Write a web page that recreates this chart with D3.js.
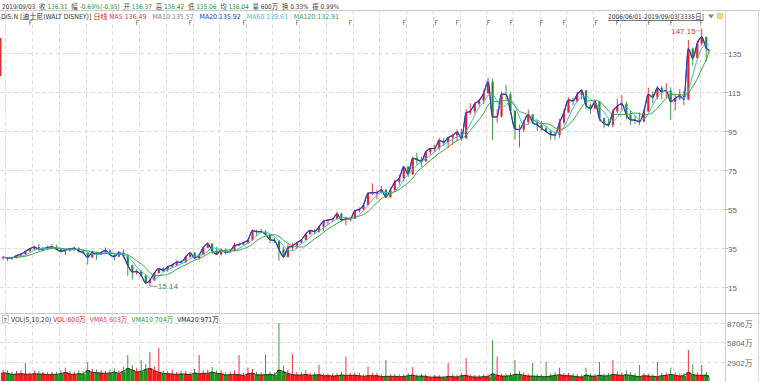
<!DOCTYPE html>
<html><head><meta charset="utf-8">
<script src="https://cdn.jsdelivr.net/npm/d3@7/dist/d3.min.js"></script>
<style>
body{margin:0;background:#fff}
svg{display:block}
text{font-family:"Liberation Sans","Noto Sans CJK SC",sans-serif}
text.cond{font-family:"DejaVu Sans Condensed","Liberation Sans Narrow","Liberation Sans","Noto Sans CJK SC",sans-serif}
</style>
</head><body>
<svg id="chart" width="760" height="382"></svg>
<script>
// ---------------- DATA ----------------
const firstDay = "2006-06-01";
const lastDay  = "2019-09-03";
const firstMonth = "2006-06";   // monthly candles Jun 2006 .. Sep 2019 (160 months)

const opens = [
 29.8,30.0,29.7,29.6,30.9,31.5,33.0,
 34.3,35.2,34.2,34.4,35.0,35.4,34.1,33.0,33.6,34.4,34.6,33.1,
 32.3,29.9,32.4,31.4,32.4,33.6,31.2,30.3,32.4,30.7,25.9,22.5,
 22.7,20.7,16.8,18.2,21.9,24.2,23.3,25.1,26.0,27.5,27.4,30.2,
 32.3,29.6,31.2,34.9,36.9,33.4,31.5,33.7,32.5,33.1,36.1,36.5,
 37.5,38.9,43.7,43.1,43.1,41.7,39.0,38.6,34.0,30.2,34.9,35.8,
 37.5,38.9,42.0,43.8,43.1,45.7,48.5,49.1,49.5,52.3,49.1,49.7,
 49.8,53.9,54.6,56.8,62.8,63.1,63.2,64.6,60.8,64.5,68.6,70.5,
 76.4,72.6,80.8,80.1,79.3,84.0,85.7,85.9,89.9,89.0,91.4,92.5,
 94.2,91.0,104.1,104.9,108.7,110.4,114.1,120.0,101.9,102.2,113.7,113.5,
 105.1,95.8,95.5,99.3,103.3,99.2,97.8,96.1,94.5,92.9,92.7,99.1,
 104.2,110.7,110.1,113.4,115.6,107.9,106.3,109.9,101.2,98.6,97.8,104.8,
 107.5,108.7,103.2,100.4,100.3,99.5,104.8,113.6,112.0,116.9,114.8,115.5,
 109.7,111.5,112.8,111.0,137.0,132.0,139.6,143.0,136.37
];
const highs = [
 30.5,30.2,30.4,31.2,32.0,33.5,34.8,
 36.0,36.8,35.3,35.9,36.8,36.4,34.9,34.4,34.8,35.4,35.2,33.9,
 32.5,33.4,32.8,32.9,35.0,34.0,31.5,33.2,34.0,31.5,26.2,24.0,
 23.5,21.3,18.8,22.4,24.6,25.0,25.7,26.6,28.3,28.6,30.8,32.8,
 32.7,31.5,35.2,37.9,37.4,35.4,34.6,34.4,34.3,37.4,37.6,37.9,
 39.2,44.3,44.0,44.5,43.8,41.9,40.0,38.8,35.2,36.5,37.4,38.0,
 39.4,42.5,44.0,44.3,46.3,48.7,49.5,50.1,53.4,53.0,50.9,50.6,
 54.3,55.6,57.8,63.3,67.9,64.7,66.5,64.9,65.8,69.8,72.5,76.8,
 76.8,81.6,83.6,81.5,84.6,86.1,87.6,91.2,91.2,91.4,93.4,95.5,
 95.9,106.0,109.0,109.6,111.3,115.6,122.1,121.7,105.9,115.0,118.5,114.7,
 105.3,98.0,100.4,105.7,103.3,100.6,99.9,97.3,95.1,94.1,101.0,106.1,
 111.9,111.9,114.9,116.1,115.7,108.8,110.6,110.2,101.7,101.0,106.0,111.1,
 113.2,109.7,105.2,102.5,104.2,106.2,117.0,115.0,117.8,117.9,119.2,117.2,
 113.0,116.1,115.3,141.4,137.6,141.2,147.15,143.0,136.42
];
const lows = [
 28.6,28.0,28.7,29.4,30.6,31.3,32.9,
 33.7,33.4,33.0,34.0,34.6,33.8,32.4,31.1,32.8,33.4,32.4,31.8,
 26.3,29.6,28.8,31.0,32.2,31.1,28.4,30.1,29.4,20.5,18.6,21.0,
 19.9,16.3,15.14,17.8,21.6,22.4,22.6,24.7,25.4,26.8,27.2,29.7,
 28.9,28.8,31.0,34.6,31.8,31.2,30.9,31.5,32.3,33.0,35.8,36.3,
 37.0,38.4,41.0,42.8,41.2,37.2,37.3,28.2,29.5,29.8,33.4,34.2,
 37.0,38.6,41.4,41.7,42.6,43.5,46.5,47.9,49.2,48.6,46.5,48.3,
 49.6,52.9,53.9,56.5,61.9,59.7,62.7,60.4,60.5,63.4,67.2,69.1,
 71.0,72.2,77.4,76.3,78.7,82.3,83.8,84.9,87.1,85.9,87.6,89.5,
 89.8,91.0,102.9,103.7,107.3,108.4,113.8,90.0,98.9,101.6,111.1,103.6,
 90.3,86.3,94.3,98.4,98.2,94.6,94.9,94.3,90.3,90.3,91.2,98.1,
 104.1,108.0,109.5,111.0,105.8,103.5,105.8,100.0,96.2,96.8,96.6,103.8,
 105.5,100.8,97.9,98.4,97.7,99.2,104.6,109.0,111.0,111.0,111.5,100.4,
 105.3,110.5,107.9,110.6,128.2,133.3,138.5,130.4,135.06
];
const closes = [
 30.0,29.7,29.6,30.9,31.5,33.0,34.3,
 35.2,34.2,34.4,35.0,35.4,34.1,33.0,33.6,34.4,34.6,33.1,32.3,
 29.9,32.4,31.4,32.4,33.6,31.2,30.3,32.4,30.7,25.9,22.5,22.7,
 20.7,16.8,18.2,21.9,24.2,23.3,25.1,26.0,27.5,27.4,30.2,32.3,
 29.6,31.2,34.9,36.9,33.4,31.5,33.7,32.5,33.1,36.1,36.5,37.5,
 38.9,43.7,43.1,43.1,41.7,39.0,38.6,34.0,30.2,34.9,35.8,37.5,
 38.9,42.0,43.8,43.1,45.7,48.5,49.1,49.5,52.3,49.1,49.7,49.8,
 53.9,54.6,56.8,62.8,63.1,63.2,64.6,60.8,64.5,68.6,70.5,76.4,
 72.6,80.8,80.1,79.3,84.0,85.7,85.9,89.9,89.0,91.4,92.5,94.2,
 91.0,104.1,104.9,108.7,110.4,114.1,120.0,101.9,102.2,113.7,113.5,105.1,
 95.8,95.5,99.3,103.3,99.2,97.8,96.1,94.5,92.9,92.7,99.1,104.2,
 110.7,110.1,113.4,115.6,107.9,106.3,109.9,101.2,98.6,97.8,104.8,107.5,
 108.7,103.2,100.4,100.3,99.5,104.8,113.6,112.0,116.9,114.8,115.5,109.7,
 111.5,112.8,111.0,137.0,132.0,139.6,143.0,137.26,136.31
];
// average daily volume per month (万股)
const volAvg = [
 1250,1150,1000,1050,1100,1050,1000,
 1100,1050,1050,950,1000,1000,1100,1300,1050,1000,1100,1050,
 1600,1300,1250,1200,1150,1200,1350,1150,1450,1900,1650,1350,
 1450,1750,1900,1550,1300,1150,1100,1050,1000,1050,1050,950,
 1200,1100,1150,1150,1350,1150,1100,900,950,1000,950,800,
 1100,1200,950,900,950,1000,900,1650,1400,1150,950,900,
 900,1000,850,900,950,800,800,750,800,900,850,850,
 850,800,700,800,800,800,650,700,700,700,650,650,
 800,900,700,750,700,550,600,600,550,700,650,600,
 800,850,650,600,600,650,650,1100,850,750,750,800,
 1000,1000,850,750,750,700,650,650,750,850,950,800,
 800,750,650,600,900,750,700,900,750,800,1000,900,
 850,950,850,750,650,800,750,700,650,800,850,1000,
 850,750,800,1300,950,850,850,900,600
];
// largest single-day volume per month (万股)
const volPeak = [
 1700,1600,1400,1500,1600,2700,1300,
 1600,1500,1400,1300,1400,1400,1600,2000,1500,1400,1600,1500,
 2850,1800,1700,1600,1500,1700,1900,1600,2100,3900,2400,2000,
 3150,2500,4300,2200,5000,1600,1500,1700,1400,1500,1500,1300,
 1800,3900,1600,1700,2100,1600,1600,1300,1400,1600,3900,1200,
 2000,1800,1400,1300,4000,1400,1300,8706,2300,1700,4060,1300,
 1300,1600,1200,1300,2400,1100,1100,1100,1200,1400,3650,1200,
 1300,1200,1000,2200,1200,1200,1000,3150,1000,1000,1000,1000,
 1200,2100,1000,1100,1000,800,900,900,800,2700,1000,900,
 1200,3450,1000,900,900,1000,1000,6160,3650,1100,1100,1200,
 3150,1500,1300,1100,2700,1000,1000,2850,1100,1300,2000,1200,
 1200,1100,1000,900,2000,1100,1000,2850,1100,1200,3150,1400,
 1300,1600,1300,1100,2400,1200,1100,1000,2850,1200,1300,2000,
 1300,1100,1200,4660,2500,1300,2400,1400,600
];
const priceTicks = [15, 35, 55, 75, 95, 115, 135];
const volTicks = [2902, 5804, 8706];
const volTickLabels = ["2902万", "5804万", "8706万"];
const dividendDates = ["2006-12-08","2008-12-10","2009-12-09","2010-12-10","2011-12-09",
  "2012-12-07","2013-12-11","2014-07-15","2014-12-10","2015-07-06","2015-12-10","2016-07-06",
  "2016-12-08","2017-07-12","2017-12-08","2018-07-12","2018-12-13","2019-07-03"];
// header row 1: pieces [text, colour, spaces before]
const header1 = [
 ["2019/09/03","#333",0],["收","#444",2],["136.31","g",1],["幅","#444",2],["-0.69%(-0.95)","g",1],
 ["开","#444",2],["136.37","g",1],["高","#444",2],["136.42","g",1],["低","#444",2],["135.06","g",1],
 ["均","#444",2],["136.04","g",1],["量","#444",2],["600万","#333",1],["换","#444",2],["0.33%","#333",1],
 ["振","#444",2],["0.99%","#333",1]
];
const header2 = [
 ["DIS.N","#333",0],["[迪士尼(WALT DISNEY)]","#333",1],["日线","#e01818",1],["MA5:136.49","#d8324c",1],
 ["MA10:135.57","#6f84a6",3],["MA20:135.92","#2436c8",3],["MA60:139.61","#33bfe0",3],["MA120:132.91","#3ca63c",3]
];
const volHeader = [
 ["VOL(5,10,20)","#333",0],["VOL:600万","#e02020",1],["VMA5:603万","#e0406a",2],["VMA10:704万","#2aa02a",2],["VMA20:971万","#222",2]
];
const rangeLabel = "2006/06/01-2019/09/03[3335日]";
const lowLabel = "15.14", highLabel = "147.15";

// ---------------- DRAW ----------------
const svg = d3.select("#chart");
const W = 760, axisX = 725, mainTop = 10, mainBottom = 313, volBottom = 382;
const GREEN_TXT = "#22922c";
const UP = "#e3262c", DOWN = "#24912c";
const parse = d3.timeParse("%Y-%m-%d");
const d0 = parse(firstDay), d1 = parse(lastDay);
const x = d3.scaleTime().domain([d0, d1]).range([1, 709]);
const y = d3.scaleLinear().domain([15, 135]).range([286.5, 52.5]);
const yv = d3.scaleLinear().domain([0, 8706]).range([381, 323]);

const m0 = d3.timeParse("%Y-%m")(firstMonth);
const months = closes.map((c, i) => {
  const ms = d3.timeMonth.offset(m0, i);
  const me = d3.timeMonth.offset(m0, i + 1);
  let mid = d3.timeDay.offset(ms, 14);
  if (mid > d1) mid = d1;
  return {ms, me: me > d1 ? d1 : me, mid, o: opens[i], h: highs[i], l: lows[i], c, va: volAvg[i], vp: volPeak[i]};
});

// frame lines
svg.append("line").attr("x1",0).attr("x2",W).attr("y1",mainTop+0.5).attr("y2",mainTop+0.5).attr("stroke","#c8c8c8");
svg.append("line").attr("x1",0).attr("x2",W).attr("y1",mainBottom+0.5).attr("y2",mainBottom+0.5).attr("stroke","#c8c8c8");
svg.append("line").attr("x1",axisX+0.5).attr("x2",axisX+0.5).attr("y1",mainTop).attr("y2",volBottom).attr("stroke","#cfcfcf");
svg.append("line").attr("x1",W-1.5).attr("x2",W-1.5).attr("y1",mainTop).attr("y2",volBottom).attr("stroke","#d8d8d8");

// grid
const gridDates = d3.timeMonth.every(6).range(d0, d1);
const g = svg.append("g").attr("stroke","#dcdcdc").attr("stroke-dasharray","4,3");
gridDates.forEach(d => {
  const xx = Math.round(x(d)) + 0.5;
  g.append("line").attr("x1",xx).attr("x2",xx).attr("y1",mainTop).attr("y2",volBottom);
});
priceTicks.forEach(v => {
  const yy = Math.round(y(v)) + 0.5;
  g.append("line").attr("x1",0).attr("x2",axisX).attr("y1",yy).attr("y2",yy);
  svg.append("line").attr("x1",axisX).attr("x2",axisX+3).attr("y1",yy).attr("y2",yy).attr("stroke","#bbb");
  svg.append("text").attr("x",axisX+3).attr("y",yy+3).attr("font-size",8).attr("fill","#666").text(v);
});
volTicks.forEach((v,i) => {
  const yy = Math.round(yv(v)) + 0.5;
  g.append("line").attr("x1",0).attr("x2",axisX).attr("y1",yy).attr("y2",yy);
  svg.append("text").attr("x",axisX+2).attr("y",yy+3).attr("font-size",8).attr("fill","#666").text(volTickLabels[i]);
});

// candles
const cg = svg.append("g");
months.forEach(m => {
  const col = m.c >= m.o ? UP : DOWN;
  const xx = x(m.mid);
  cg.append("line").attr("x1",xx).attr("x2",xx).attr("y1",y(m.h)).attr("y2",y(m.l)).attr("stroke",col).attr("stroke-width",0.9);
  const yt = y(Math.max(m.o,m.c)), yb = y(Math.min(m.o,m.c));
  cg.append("rect").attr("x",xx-1.1).attr("y",yt).attr("width",2.2).attr("height",Math.max(1,yb-yt)).attr("fill",col);
});

// moving averages (monthly-window equivalents of the daily MAs)
function movAvg(arr, w){ return arr.map((_,i)=> d3.mean(arr.slice(Math.max(0,i-w+1), i+1))); }
const midPrice = months.map(m => (m.o + m.c) / 2);
const maSpecs = [
  {src:closes, w:1, color:"#d8324c", sw:0.9},
  {src:closes, w:1, color:"#6f84a6", sw:0.9},
  {src:closes, w:1, color:"#2436c8", sw:1.1},
  {src:midPrice, w:3, color:"#33bfe0", sw:1},
  {src:midPrice, w:6, color:"#3ca63c", sw:1}
];
maSpecs.forEach(s => {
  const vals = movAvg(s.src, s.w);
  const line = d3.line().x((d,i)=>x(months[i].mid)).y(d=>y(d)).curve(d3.curveMonotoneX);
  svg.append("path").attr("d", line(vals)).attr("fill","none").attr("stroke",s.color).attr("stroke-width",s.sw);
});

// volume
const vg = svg.append("g");
months.forEach(m => {
  const col = m.c >= m.o ? "#f21c1c" : "#239023";
  const xa = x(m.ms), xb = x(m.me);
  vg.append("rect").attr("x",xa).attr("y",yv(m.va)).attr("width",Math.max(0.8,xb-xa)).attr("height",yv(0)-yv(m.va)).attr("fill",col);
  const xs = x(m.mid);
  vg.append("line").attr("x1",xs).attr("x2",xs).attr("y1",yv(m.vp)).attr("y2",yv(m.va)).attr("stroke",col).attr("stroke-width",0.9);
});
svg.append("path").attr("d", d3.line().x((d,i)=>x(months[i].mid)).y(d=>yv(d))(volAvg))
  .attr("fill","none").attr("stroke","#111").attr("stroke-width",0.8);

// dividend flags
dividendDates.forEach(ds => {
  const xx = Math.round(x(parse(ds))) + 0.5;
  svg.append("path").attr("d",`M${xx},25V20.5H${xx+2.5}M${xx},22.5H${xx+1.5}`).attr("stroke","#8a8a8a").attr("stroke-width",0.8).attr("fill","none");
});

// ---- text rows: natural flow, font size chosen so the row spans the reference width ----
const probe = svg.append("text").attr("class","cond").attr("font-size",10);
const measure = t => { probe.text(t); return probe.node().getComputedTextLength(); };
const spW = measure("a a") - measure("aa");
function flowRow(items, x0, x1, yy, maxFs){
  const pieces = items.map(([t,c,s]) => ({t, c: c === "g" ? GREEN_TXT : c, w: measure(t), gap: s * spW}));
  const total = d3.sum(pieces, p => p.w + p.gap);
  const k = Math.min(maxFs / 10, (x1 - x0) / total);
  let cx = x0;
  pieces.forEach(p => {
    cx += p.gap * k;
    svg.append("text").attr("class","cond").attr("x",cx).attr("y",yy).attr("font-size",10*k).attr("fill",p.c).text(p.t);
    cx += p.w * k;
  });
}
flowRow(header1, 2, 339, 9, 9.8);
flowRow(header2, 1, 339, 18.5, 9.5);
flowRow(volHeader, 11, 219, 322, 9.5);
{
  const fs = Math.min(9, 10 * 96 / measure(rangeLabel));
  svg.append("text").attr("class","cond").attr("x",608).attr("y",19).attr("font-size",fs).attr("fill","#333")
    .attr("text-decoration","underline").text(rangeLabel);
}
probe.remove();

svg.append("rect").attr("x",2.5).attr("y",315.5).attr("width",6).attr("height",7).attr("fill","#f2f2f2").attr("stroke","#aaa").attr("stroke-width",0.6);
svg.append("text").attr("x",3.6).attr("y",321.5).attr("font-size",6).attr("fill","#555").text("7");
svg.append("path").attr("d","M708,14.5H714L711,18.5Z").attr("fill","#888");
svg.append("rect").attr("x",717.5).attr("y",13.5).attr("width",5).attr("height",5).attr("fill","#f6d77a").attr("stroke","#e0b040").attr("stroke-width",0.6);

// left red marker
svg.append("rect").attr("x",0).attr("y",38).attr("width",1.5).attr("height",38).attr("fill","#e03030");

// low / high annotations
const iLow = d3.minIndex(lows), iHigh = d3.maxIndex(highs);
const lx = x(months[iLow].mid), ly = y(lows[iLow]);
svg.append("path").attr("d",`M${lx},${ly}H${lx+7}`).attr("stroke","#666").attr("stroke-width",0.7);
svg.append("text").attr("x",lx+8).attr("y",ly+3).attr("font-size",8).attr("fill","#4c8c2a").text(lowLabel);
const hx = x(months[iHigh].mid), hy = y(highs[iHigh]);
svg.append("path").attr("d",`M${hx-6},${hy+2}H${hx-2}L${hx},${hy}`).attr("stroke","#888").attr("stroke-width",0.7).attr("fill","none");
svg.append("text").attr("x",hx-6).attr("y",hy+5).attr("text-anchor","end").attr("font-size",8).attr("fill","#d83a3a").text(highLabel);
</script>
</body></html>
